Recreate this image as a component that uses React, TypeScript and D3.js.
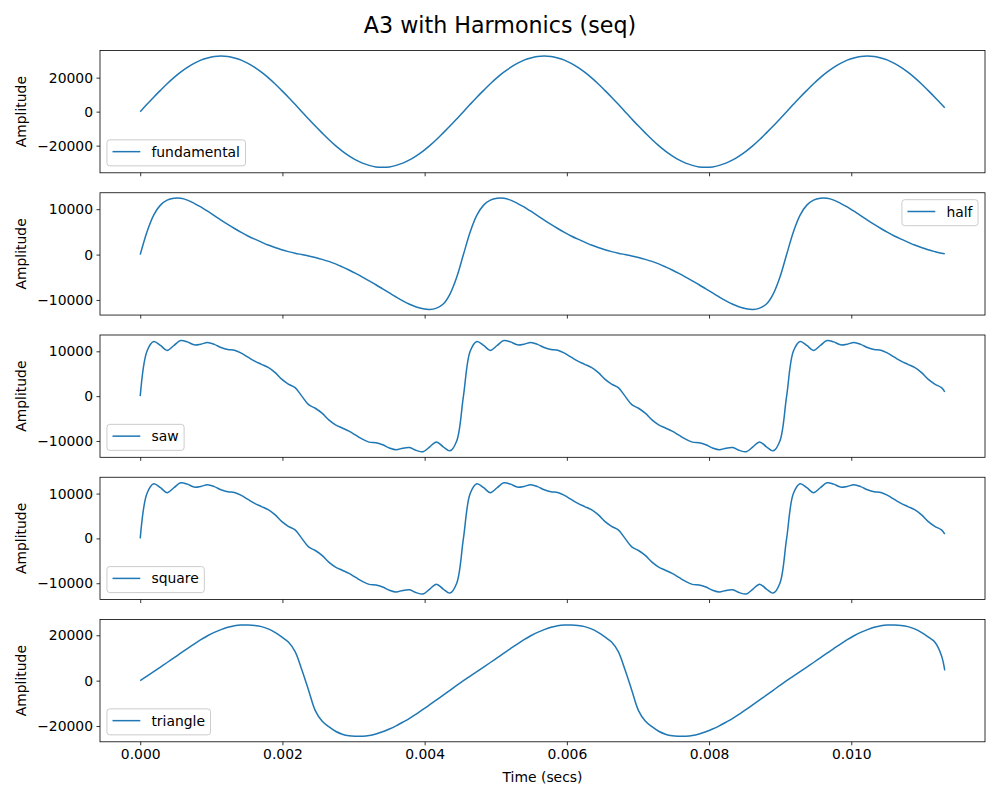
import React, { useEffect, useRef } from "react";
import * as d3 from "d3";

// sample times in seconds: 48 samples per A3 period (220 Hz), about 2.5 periods
const times = [
  0, 0.0000947, 0.0001894, 0.0002841, 0.0003788, 0.0004735, 0.0005682, 0.0006629, 0.0007576, 0.0008523, 0.000947, 0.0010417,
  0.0011364, 0.0012311, 0.0013258, 0.0014205, 0.0015152, 0.0016098, 0.0017045, 0.0017992, 0.0018939, 0.0019886, 0.0020833, 0.002178,
  0.0022727, 0.0023674, 0.0024621, 0.0025568, 0.0026515, 0.0027462, 0.0028409, 0.0029356, 0.0030303, 0.003125, 0.0032197, 0.0033144,
  0.0034091, 0.0035038, 0.0035985, 0.0036932, 0.0037879, 0.0038826, 0.0039773, 0.004072, 0.0041667, 0.0042614, 0.0043561, 0.0044508,
  0.0045455, 0.0046402, 0.0047348, 0.0048295, 0.0049242, 0.0050189, 0.0051136, 0.0052083, 0.005303, 0.0053977, 0.0054924, 0.0055871,
  0.0056818, 0.0057765, 0.0058712, 0.0059659, 0.0060606, 0.0061553, 0.00625, 0.0063447, 0.0064394, 0.0065341, 0.0066288, 0.0067235,
  0.0068182, 0.0069129, 0.0070076, 0.0071023, 0.007197, 0.0072917, 0.0073864, 0.0074811, 0.0075758, 0.0076705, 0.0077652, 0.0078598,
  0.0079545, 0.0080492, 0.0081439, 0.0082386, 0.0083333, 0.008428, 0.0085227, 0.0086174, 0.0087121, 0.0088068, 0.0089015, 0.0089962,
  0.0090909, 0.0091856, 0.0092803, 0.009375, 0.0094697, 0.0095644, 0.0096591, 0.0097538, 0.0098485, 0.0099432, 0.0100379, 0.0101326,
  0.0102273, 0.010322, 0.0104167, 0.0105114, 0.0106061, 0.0107008, 0.0107955, 0.0108902, 0.0109848, 0.0110795, 0.0111742, 0.0112689,
  0.011315,
];

const fundamentalValues = [
  0, 4300, 8500, 12500, 16400, 20000, 23200, 26000, 28400, 30300, 31600, 32500,
  32700, 32500, 31600, 30300, 28400, 26000, 23200, 20000, 16400, 12500, 8500, 4300,
  0, -4300, -8500, -12500, -16400, -20000, -23200, -26000, -28400, -30300, -31600, -32500,
  -32700, -32500, -31600, -30300, -28400, -26000, -23200, -20000, -16400, -12500, -8500, -4300,
  0, 4300, 8500, 12500, 16400, 20000, 23200, 26000, 28400, 30300, 31600, 32500,
  32700, 32500, 31600, 30300, 28400, 26000, 23200, 20000, 16400, 12500, 8500, 4300,
  0, -4300, -8500, -12500, -16400, -20000, -23200, -26000, -28400, -30300, -31600, -32500,
  -32700, -32500, -31600, -30300, -28400, -26000, -23200, -20000, -16400, -12500, -8500, -4300,
  0, 4300, 8500, 12500, 16400, 20000, 23200, 26000, 28400, 30300, 31600, 32500,
  32700, 32500, 31600, 30300, 28400, 26000, 23200, 20000, 16400, 12500, 8500, 4300,
  2300,
];

const halfValues = [
  0, 5000, 8700, 10900, 12000, 12400, 12400, 12000, 11300, 10500, 9550, 8600,
  7600, 6650, 5750, 4900, 4100, 3400, 2750, 2100, 1550, 1050, 650, 300,
  0, -300, -650, -1050, -1500, -2050, -2700, -3400, -4150, -4950, -5800, -6650,
  -7550, -8450, -9350, -10200, -10950, -11550, -11950, -12100, -11800, -10900, -8700, -5000,
  0, 5000, 8700, 10900, 12000, 12400, 12400, 12000, 11300, 10500, 9550, 8600,
  7600, 6650, 5750, 4900, 4100, 3400, 2750, 2100, 1550, 1050, 650, 300,
  0, -300, -650, -1050, -1500, -2050, -2700, -3400, -4150, -4950, -5800, -6650,
  -7550, -8450, -9350, -10200, -10950, -11550, -11950, -12100, -11800, -10900, -8700, -5000,
  0, 5000, 8700, 10900, 12000, 12400, 12400, 12000, 11300, 10500, 9550, 8600,
  7600, 6650, 5750, 4900, 4100, 3400, 2750, 2100, 1550, 1050, 650, 300,
  200,
];

const sawValues = [
  0, 10000, 12200, 11300, 10200, 11300, 12400, 12100, 11450, 11600, 11950, 11550,
  10850, 10400, 10250, 9600, 8700, 7800, 7100, 6400, 5300, 3800, 2700, 1900,
  0, -1900, -2700, -3800, -5300, -6400, -7100, -7800, -8700, -9600, -10250, -10400,
  -10850, -11550, -11950, -11600, -11450, -12100, -12400, -11300, -10200, -11300, -12200, -10000,
  0, 10000, 12200, 11300, 10200, 11300, 12400, 12100, 11450, 11600, 11950, 11550,
  10850, 10400, 10250, 9600, 8700, 7800, 7100, 6400, 5300, 3800, 2700, 1900,
  0, -1900, -2700, -3800, -5300, -6400, -7100, -7800, -8700, -9600, -10250, -10400,
  -10850, -11550, -11950, -11600, -11450, -12100, -12400, -11300, -10200, -11300, -12200, -10000,
  0, 10000, 12200, 11300, 10200, 11300, 12400, 12100, 11450, 11600, 11950, 11550,
  10850, 10400, 10250, 9600, 8700, 7800, 7100, 6400, 5300, 3800, 2700, 1900,
  950,
];

// the square panel plots exactly the same samples as the saw panel
const squareValues = sawValues;

const triangleValues = [
  0, 2000, 4000, 6000, 8000, 10050, 12100, 14150, 16150, 18050, 19800, 21300,
  22500, 23500, 24200, 24500, 24500, 24300, 23800, 22800, 21300, 19300, 17000, 12800,
  4800, -4200, -13200, -17800, -20300, -22300, -23600, -24300, -24500, -24500, -24200, -23500,
  -22500, -21300, -19900, -18300, -16600, -14700, -12700, -10600, -8500, -6400, -4250, -2100,
  0, 2000, 4000, 6000, 8000, 10050, 12100, 14150, 16150, 18050, 19800, 21300,
  22500, 23500, 24200, 24500, 24500, 24300, 23800, 22800, 21300, 19300, 17000, 12800,
  4800, -4200, -13200, -17800, -20300, -22300, -23600, -24300, -24500, -24500, -24200, -23500,
  -22500, -21300, -19900, -18300, -16600, -14700, -12700, -10600, -8500, -6400, -4250, -2100,
  0, 2000, 4000, 6000, 8000, 10050, 12100, 14150, 16150, 18050, 19800, 21300,
  22500, 23500, 24200, 24500, 24500, 24300, 23800, 22800, 21300, 19300, 17000, 11000,
  4500,
];

const seriesLabels = ["fundamental", "half", "saw", "square", "triangle"];
const yTicks = [
  [-20000, 0, 20000],
  [-10000, 0, 10000],
  [-10000, 0, 10000],
  [-10000, 0, 10000],
  [-20000, 0, 20000],
];
const xTicks = [0, 0.002, 0.004, 0.006, 0.008, 0.01];
const legendPlaces = ["lower left", "upper right", "lower left", "lower left", "lower left"];

export default function App() {
  const svgRef = useRef<SVGSVGElement>(null);

  useEffect(() => {
    if (!svgRef.current) return;
    const svg = d3.select(svgRef.current);
    svg.selectAll("*").remove();

    const width = 1000;
    const height = 800;
    const left = 100;
    const right = 985;
    const firstTop = 50.5;
    const panelStep = 142.25;
    const panelH = 122.3;
    const fs = 13.9;
    const font = "'DejaVu Sans', sans-serif";
    const blue = "#1f77b4";

    const series = [fundamentalValues, halfValues, sawValues, squareValues, triangleValues];

    const [tMin, tMax] = d3.extent(times) as [number, number];
    const tPad = (tMax - tMin) * 0.05;
    const x = d3.scaleLinear().domain([tMin - tPad, tMax + tPad]).range([left, right]);

    svg.append("rect").attr("width", width).attr("height", height).attr("fill", "#fff");

    svg
      .append("text")
      .attr("x", width / 2)
      .attr("y", 32.5)
      .attr("text-anchor", "middle")
      .style("font-family", font)
      .style("font-size", "22.2px")
      .text("A3 with Harmonics (seq)");

    series.forEach((values, i) => {
      const top = firstTop + i * panelStep;
      const bottom = top + panelH;
      const [lo, hi] = d3.extent(values) as [number, number];
      const pad = (hi - lo) * 0.05;
      const y = d3.scaleLinear().domain([lo - pad, hi + pad]).range([bottom, top]);

      const line = d3
        .line<number>()
        .x((_, j) => x(times[j]))
        .y((d) => y(d))
        .curve(d3.curveCatmullRom.alpha(0.5));

      svg
        .append("path")
        .datum(values)
        .attr("d", line)
        .attr("fill", "none")
        .attr("stroke", blue)
        .attr("stroke-width", 1.5)
        .attr("stroke-linejoin", "round");

      // axes
      const yAxis = svg
        .append("g")
        .attr("transform", `translate(${left},0)`)
        .call(
          d3.axisLeft(y).tickValues(yTicks[i]).tickSize(3.5).tickPadding(3.5).tickFormat(d3.format("d") as any)
        );
      const xAxis = svg
        .append("g")
        .attr("transform", `translate(0,${bottom})`)
        .call(
          d3
            .axisBottom(x)
            .tickValues(xTicks)
            .tickSize(3.5)
            .tickPadding(3.5)
            .tickFormat(i === series.length - 1 ? (d3.format(".3f") as any) : () => "")
        );
      [yAxis, xAxis].forEach((ax) => {
        ax.select(".domain").remove();
        ax.selectAll("line").attr("stroke", "#000").attr("stroke-width", 0.8);
        ax.selectAll("text")
          .attr("fill", "#000")
          .style("font-family", font)
          .style("font-size", `${fs}px`);
      });

      // spines
      svg
        .append("rect")
        .attr("x", left)
        .attr("y", top)
        .attr("width", right - left)
        .attr("height", panelH)
        .attr("fill", "none")
        .attr("stroke", "#000")
        .attr("stroke-width", 0.8);

      svg
        .append("text")
        .attr("transform", `translate(21,${(top + bottom) / 2}) rotate(-90)`)
        .attr("text-anchor", "middle")
        .attr("dy", "0.35em")
        .style("font-family", font)
        .style("font-size", `${fs}px`)
        .text("Amplitude");

      // legend
      const lg = svg.append("g");
      const frame = lg.append("rect");
      const label = lg
        .append("text")
        .style("font-family", font)
        .style("font-size", `${fs}px`)
        .attr("fill", "#000")
        .text(seriesLabels[i]);
      const tw = (label.node() as SVGTextElement).getComputedTextLength();
      const boxW = 0.8 * fs + 2 * fs + 0.8 * fs + tw;
      const boxH = 26;
      const upper = legendPlaces[i] === "upper right";
      const bx = upper ? right - 0.5 * fs - boxW : left + 0.5 * fs;
      const by = upper ? top + 0.5 * fs : bottom - 0.5 * fs - boxH;
      frame
        .attr("x", bx)
        .attr("y", by)
        .attr("width", boxW)
        .attr("height", boxH)
        .attr("rx", 2.8)
        .attr("fill", "#fff")
        .attr("fill-opacity", 0.8)
        .attr("stroke", "#ccc")
        .attr("stroke-width", 1);
      lg.append("line")
        .attr("x1", bx + 0.4 * fs)
        .attr("x2", bx + 0.4 * fs + 2 * fs)
        .attr("y1", by + 11.8)
        .attr("y2", by + 11.8)
        .attr("stroke", blue)
        .attr("stroke-width", 1.5);
      label.attr("x", bx + 0.4 * fs + 2 * fs + 0.8 * fs).attr("y", by + 16.8);
    });

    svg
      .append("text")
      .attr("x", (left + right) / 2)
      .attr("y", 782)
      .attr("text-anchor", "middle")
      .style("font-family", font)
      .style("font-size", `${fs}px`)
      .text("Time (secs)");
  }, []);

  return (
    <svg
      ref={svgRef}
      width={1000}
      height={800}
      style={{ position: "absolute", left: 0, top: 0, display: "block" }}
    />
  );
}
